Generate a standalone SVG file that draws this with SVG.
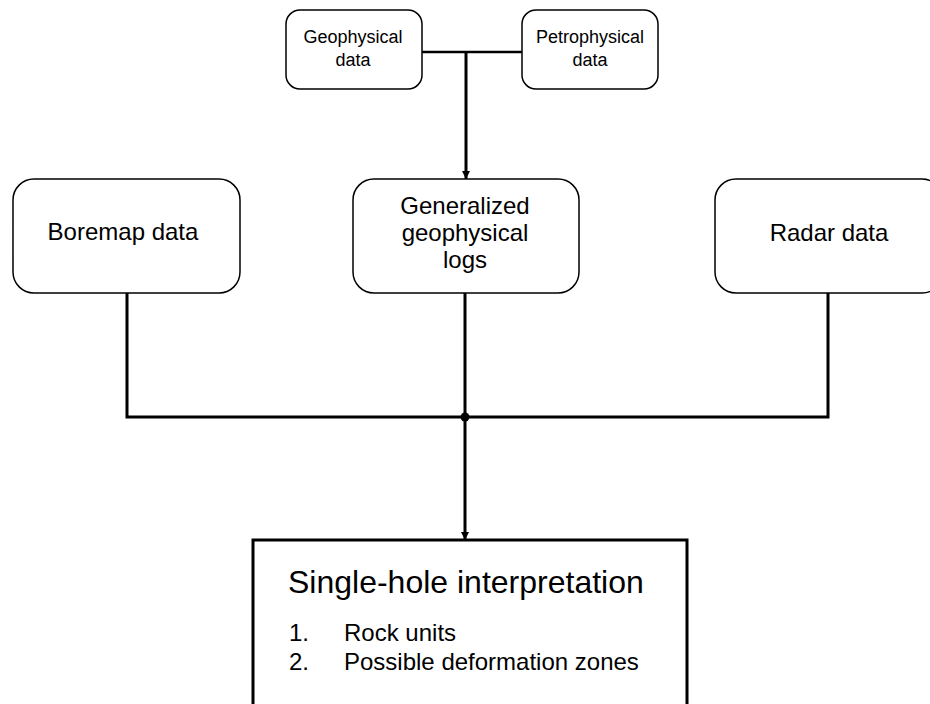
<svg xmlns="http://www.w3.org/2000/svg" width="930" height="704" viewBox="0 0 930 704">
<defs>
<style>
.box{fill:#fff;stroke:#000;stroke-width:1.5}
.main{fill:#fff;stroke:#000;stroke-width:3}
.t{font-family:"Liberation Sans",Arial,sans-serif;fill:#000}
.s{font-size:18px;text-anchor:middle}
.m{font-size:24px;text-anchor:middle}
.c{fill:none;stroke:#000;stroke-width:3}
</style>
<marker id="ah" viewBox="0 0 10 10" refX="10" refY="5" markerWidth="8" markerHeight="8" markerUnits="userSpaceOnUse" orient="auto">
<path d="M0,0 L10,5 L0,10 Z" fill="#000"/>
</marker>
</defs>
<rect width="930" height="704" fill="#fff"/>
<g id="connectors">
<path class="c" style="stroke-width:2.5" d="M422,52 H522"/>
<path class="c" d="M466,52 V179" marker-end="url(#ah)"/>
<path class="c" d="M127,293 V417 H828 V293"/>
<path class="c" d="M465,293 V540" marker-end="url(#ah)"/>
<circle cx="465" cy="417" r="4.5" fill="#000"/>
</g>
<g id="geophysical">
<rect class="box" x="286" y="10" width="136" height="79" rx="14"/>
<text class="t s" x="353" y="43">Geophysical</text>
<text class="t s" x="353" y="66">data</text>
</g>
<g id="petrophysical">
<rect class="box" x="522" y="10" width="136" height="79" rx="14"/>
<text class="t s" x="590" y="43">Petrophysical</text>
<text class="t s" x="590" y="66">data</text>
</g>
<g id="boremap">
<rect class="box" x="13" y="179" width="227" height="114" rx="21"/>
<text class="t m" x="123" y="240">Boremap data</text>
</g>
<g id="generalized">
<rect class="box" x="353" y="179" width="226" height="114" rx="21"/>
<text class="t m" x="465" y="214">Generalized</text>
<text class="t m" x="465" y="241">geophysical</text>
<text class="t m" x="465" y="268">logs</text>
</g>
<g id="radar">
<rect class="box" x="715" y="179" width="228" height="114" rx="21"/>
<text class="t m" x="829" y="241">Radar data</text>
</g>
<g id="interpretation">
<rect class="main" x="253" y="540" width="434" height="180"/>
<text class="t" x="288" y="593" font-size="32">Single-hole interpretation</text>
<text class="t" x="289" y="641" font-size="24">1.</text>
<text class="t" x="344" y="641" font-size="24">Rock units</text>
<text class="t" x="289" y="670" font-size="24">2.</text>
<text class="t" x="344" y="670" font-size="24">Possible deformation zones</text>
</g>
</svg>
